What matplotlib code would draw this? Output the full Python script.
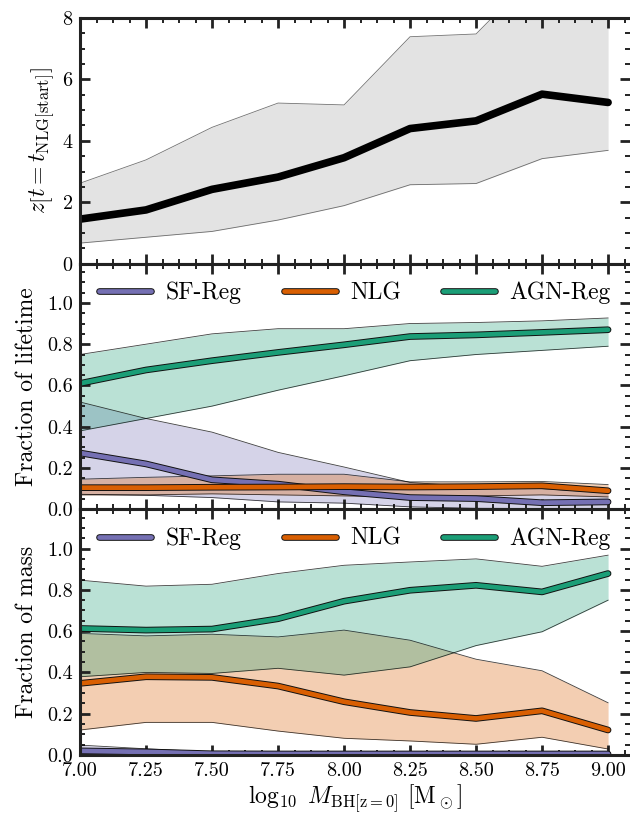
import matplotlib.pyplot as plt
import matplotlib
import matplotlib.patheffects as pe
from matplotlib.ticker import MultipleLocator, FormatStrFormatter

matplotlib.rcParams['font.family'] = 'cmr10'
matplotlib.rcParams['mathtext.fontset'] = 'cm'
matplotlib.rcParams['axes.formatter.use_mathtext'] = True
matplotlib.rcParams['axes.unicode_minus'] = False

mbh = [7.0, 7.25, 7.5, 7.75, 8.0, 8.25, 8.5, 8.75, 9.0]

# redshift at start of NLG phase
z_med = [1.45, 1.75, 2.42, 2.82, 3.45, 4.40, 4.65, 5.52, 5.25]
z_lo = [0.67, 0.86, 1.05, 1.42, 1.89, 2.57, 2.61, 3.42, 3.69]
z_hi = [2.62, 3.38, 4.44, 5.23, 5.17, 7.39, 7.48, 9.65, 9.80]

# fraction of lifetime
lt_sf_med = [0.273, 0.220, 0.143, 0.122, 0.085, 0.057, 0.052, 0.032, 0.036]
lt_sf_lo = [0.073, 0.068, 0.057, 0.036, 0.030, 0.012, 0.005, 0.004, 0.004]
lt_sf_hi = [0.520, 0.440, 0.374, 0.276, 0.205, 0.130, 0.110, 0.100, 0.080]
lt_nlg_med = [0.105, 0.105, 0.107, 0.108, 0.110, 0.108, 0.110, 0.114, 0.090]
lt_nlg_lo = [0.070, 0.070, 0.075, 0.070, 0.065, 0.060, 0.065, 0.070, 0.060]
lt_nlg_hi = [0.146, 0.155, 0.162, 0.170, 0.170, 0.133, 0.133, 0.135, 0.120]
lt_agn_med = [0.610, 0.675, 0.720, 0.760, 0.797, 0.837, 0.845, 0.857, 0.870]
lt_agn_lo = [0.380, 0.440, 0.500, 0.577, 0.647, 0.720, 0.750, 0.770, 0.790]
lt_agn_hi = [0.750, 0.800, 0.850, 0.875, 0.875, 0.900, 0.905, 0.913, 0.927]

# fraction of mass
m_sf_med = [0.020, 0.015, 0.006, 0.005, 0.005, 0.005, 0.005, 0.005, 0.005]
m_sf_lo = [0.000, 0.000, 0.000, 0.000, 0.000, 0.000, 0.000, 0.000, 0.000]
m_sf_hi = [0.048, 0.030, 0.015, 0.010, 0.010, 0.010, 0.010, 0.010, 0.010]
m_nlg_med = [0.347, 0.379, 0.376, 0.334, 0.258, 0.206, 0.177, 0.214, 0.121]
m_nlg_lo = [0.121, 0.158, 0.158, 0.116, 0.081, 0.068, 0.052, 0.086, 0.029]
m_nlg_hi = [0.589, 0.577, 0.585, 0.572, 0.605, 0.556, 0.464, 0.408, 0.253]
m_agn_med = [0.613, 0.605, 0.610, 0.660, 0.745, 0.798, 0.822, 0.790, 0.879]
m_agn_lo = [0.379, 0.400, 0.395, 0.420, 0.387, 0.427, 0.530, 0.597, 0.750]
m_agn_hi = [0.847, 0.818, 0.827, 0.879, 0.919, 0.935, 0.950, 0.914, 0.968]

labels = ['SF-Reg', 'NLG', 'AGN-Reg']
colors = ['#7570b3', '#d95f02', '#1b9e77']

fig = plt.figure(figsize=(6.3, 8.15), dpi=100)
gs = fig.add_gridspec(3, 1, left=80/630, right=1.0, top=1-18/815,
                      bottom=1-755/815, hspace=0)
axes = [fig.add_subplot(gs[i]) for i in range(3)]

stroke = [pe.Stroke(linewidth=4.8, foreground='#111111'), pe.Normal()]


def band(ax, lo, hi, c, a, ec='k'):
    ax.fill_between(mbh, lo, hi, color=c, alpha=a, lw=0)
    ax.plot(mbh, lo, color=ec, lw=0.6, alpha=0.75)
    ax.plot(mbh, hi, color=ec, lw=0.6, alpha=0.75)


# top panel
ax = axes[0]
band(ax, z_lo, z_hi, '#e3e3e3', 1, ec='#444444')
ax.plot(mbh, z_med, color='k', lw=5.5, solid_capstyle='round')
ax.set_ylim(0, 8)
ax.yaxis.set_major_locator(MultipleLocator(2))
ax.yaxis.set_minor_locator(MultipleLocator(0.5))
ax.set_ylabel(r'$z\left[t = t_{\rm NLG[start]}\right]$', fontsize=17,
              labelpad=3)

# middle and bottom panels
sets = [
    [(lt_sf_lo, lt_sf_med, lt_sf_hi), (lt_nlg_lo, lt_nlg_med, lt_nlg_hi),
     (lt_agn_lo, lt_agn_med, lt_agn_hi)],
    [(m_sf_lo, m_sf_med, m_sf_hi), (m_nlg_lo, m_nlg_med, m_nlg_hi),
     (m_agn_lo, m_agn_med, m_agn_hi)],
]
ylabels = ['Fraction of lifetime', 'Fraction of mass']
for ax, s, yl in zip(axes[1:], sets, ylabels):
    for (lo, med, hi), c in zip(s, colors):
        band(ax, lo, hi, c, 0.3)
    for (lo, med, hi), c, lab in zip(s, colors, labels):
        ax.plot(mbh, med, color=c, lw=3.4, solid_capstyle='round',
                path_effects=stroke, label=lab)
    ax.set_ylim(0, 1.19)
    ax.yaxis.set_major_locator(MultipleLocator(0.2))
    ax.yaxis.set_minor_locator(MultipleLocator(0.05))
    ax.yaxis.set_major_formatter(FormatStrFormatter('%.1f'))
    ax.set_ylabel(yl, fontsize=17, labelpad=7)
    ax.legend(loc='upper center', ncol=3, frameon=False, fontsize=17,
              handlelength=2.2, handletextpad=0.6, columnspacing=1.8,
              borderaxespad=0.0, bbox_to_anchor=(0.5, 0.965))

for ax in axes:
    ax.set_xlim(7.0, 9.083)
    ax.xaxis.set_major_locator(MultipleLocator(0.25))
    ax.xaxis.set_minor_locator(MultipleLocator(0.0625))
    ax.tick_params(which='both', direction='in', top=True, right=True,
                   labelsize=14.5, color='#222222', pad=5)
    ax.tick_params(which='major', length=7, width=2)
    ax.tick_params(which='minor', length=3.5, width=1.4)
    for sp in ['left', 'top', 'bottom']:
        ax.spines[sp].set_linewidth(2.2)
        ax.spines[sp].set_color('#222222')
    ax.spines['right'].set_visible(False)
    if ax is not axes[2]:
        ax.tick_params(labelbottom=False)

axes[2].xaxis.set_major_formatter(FormatStrFormatter('%.2f'))
axes[2].tick_params(axis='x', pad=5)
axes[2].set_xlabel(r'$\log_{10}\ M_{\rm BH[z=0]}$ [M$_\odot$]', fontsize=17,
                   labelpad=2)

fig.savefig('out.png', dpi=100)
